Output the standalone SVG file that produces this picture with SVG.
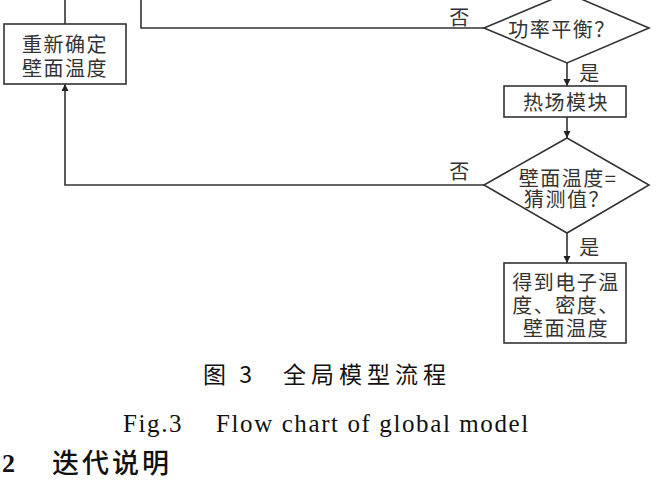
<svg xmlns="http://www.w3.org/2000/svg" width="662" height="494" viewBox="0 0 662 494">
<defs>
<marker id="ah" viewBox="0 0 10 10" refX="10" refY="5" markerWidth="7" markerHeight="9" markerUnits="userSpaceOnUse" orient="auto">
<path d="M0,0 L10,5 L0,10 Z" fill="#222"/>
</marker>
<style>
.n{fill:#fff;stroke:#333;stroke-width:1.6}
.t{font-family:"Noto Sans CJK SC","Noto Sans",sans-serif;font-size:20px;fill:#333;text-anchor:middle;dominant-baseline:central;letter-spacing:1.5px}
.c{fill:none;stroke:#333;stroke-width:1.6}
.cap{font-family:"Liberation Serif","Noto Sans CJK SC",serif;fill:#111}
</style>
</defs>
<rect width="662" height="494" fill="#fff"/>
<g id="connectors">
<path class="c" d="M65,0 V24"/>
<path class="c" d="M141,0 V28 H484"/>
<path class="c" d="M567,63 V86" marker-end="url(#ah)"/>
<path class="c" d="M567,117 V138" marker-end="url(#ah)"/>
<path class="c" d="M484,185 H65 V84" marker-end="url(#ah)"/>
<path class="c" d="M567,233 V263" marker-end="url(#ah)"/>
<text class="t" x="460" y="16">否</text>
<text class="t" x="590" y="72">是</text>
<text class="t" x="460" y="170">否</text>
<text class="t" x="590" y="246">是</text>
</g>
<g id="reset">
<rect class="n" x="4" y="24" width="122" height="60"/>
<text class="t" x="65" y="43">重新确定</text>
<text class="t" x="65" y="67">壁面温度</text>
</g>
<g id="power">
<polygon class="n" points="567,-7 649,28 567,63 484,28"/>
<text class="t" x="562" y="28">功率平衡？</text>
</g>
<g id="thermal">
<rect class="n" x="504" y="86" width="122" height="31"/>
<text class="t" x="566" y="101">热场模块</text>
</g>
<g id="wall">
<polygon class="n" points="567,138 649,185 567,233 484,185"/>
<text class="t" x="568" y="177">壁面温度=</text>
<text class="t" x="567" y="198">猜测值？</text>
</g>
<g id="result">
<rect class="n" x="504" y="263" width="122" height="80"/>
<text class="t" x="566" y="281">得到电子温</text>
<text class="t" x="566" y="304">度、密度、</text>
<text class="t" x="566" y="327">壁面温度</text>
</g>
<text x="203" y="383" style="font-family:'Noto Sans CJK SC',sans-serif;font-size:23px;fill:#111;letter-spacing:4px">图 3</text>
<text x="283" y="383" style="font-family:'Noto Sans CJK SC',sans-serif;font-size:23px;fill:#111;letter-spacing:5px">全局模型流程</text>
<text class="cap" x="123" y="432" style="font-size:25px;letter-spacing:1.6px">Fig.3</text>
<text class="cap" x="216" y="432" style="font-size:25px;letter-spacing:1.6px">Flow chart of global model</text>
<text x="2" y="472" style="font-family:'Liberation Serif',serif;font-weight:bold;font-size:26px;fill:#111">2</text>
<text x="52" y="473" style="font-family:'Noto Sans CJK SC',sans-serif;font-weight:500;font-size:27px;fill:#111;letter-spacing:3px">迭代说明</text>
</svg>
